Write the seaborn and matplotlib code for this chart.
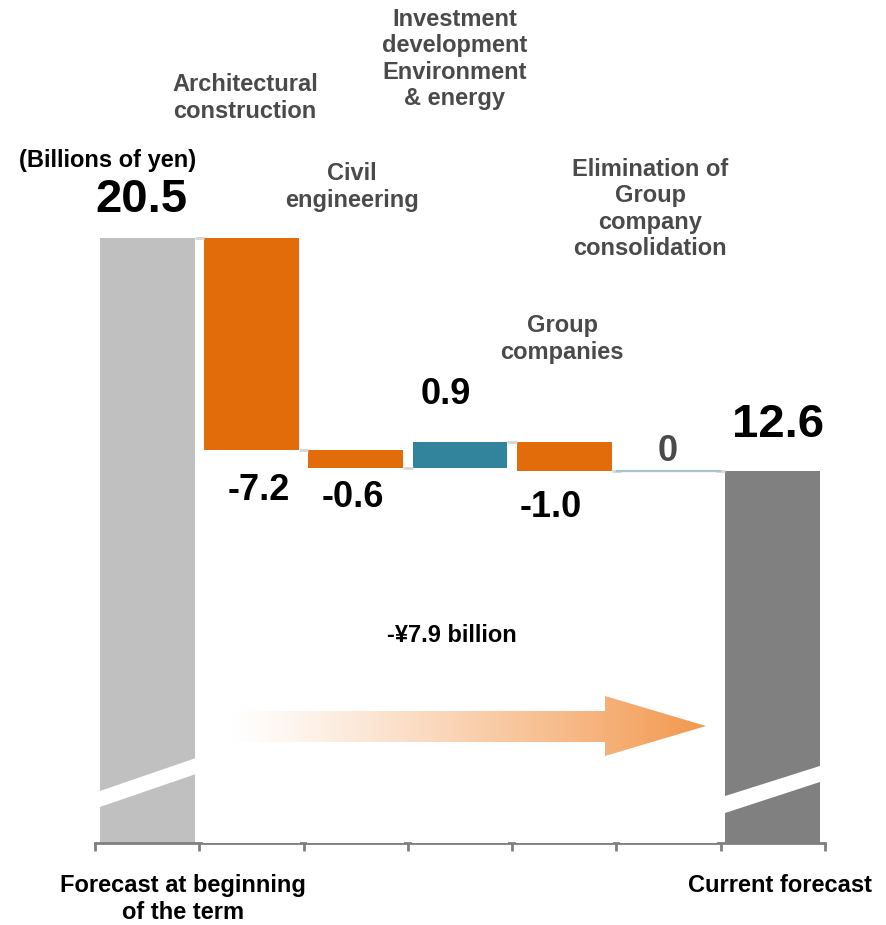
import numpy as np
import pandas as pd
import matplotlib
matplotlib.use("Agg")
import matplotlib.pyplot as plt
from matplotlib.patches import Polygon
import seaborn as sns

# ---- data (billions of yen) ----
steps = ["start", "arch", "civil", "invest", "group", "elim", "end"]
start_value = 20.5
deltas = [-7.2, -0.6, 0.9, -1.0, 0.0]
end_value = 12.6
step_titles = [
    "",
    "Architectural\nconstruction",
    "Civil\nengineering",
    "Investment\ndevelopment\nEnvironment\n& energy",
    "Group\ncompanies",
    "Elimination of\nGroup\ncompany\nconsolidation",
    "",
]
bottom_titles = ["Forecast at beginning\nof the term", "Current forecast"]
unit_label = "(Billions of yen)"
total_change_label = "-\u00a57.9 billion"

# ---- colours ----
c_start = "#c0c0c0"
c_end = "#808080"
c_down = "#e36c0a"
c_up = "#31849b"
c_flat = "#a9c5cb"
c_link = "#d6d6d6"
c_title = "#4a4a4a"

# ---- waterfall geometry from the values ----
levels = [start_value]
for d in deltas:
    levels.append(round(levels[-1] + d, 1))
tops, bottoms, colors = [start_value], [0.0], [c_start]
for i, d in enumerate(deltas):
    lo, hi = sorted([levels[i], levels[i + 1]])
    tops.append(hi)
    bottoms.append(lo)
    colors.append(c_flat if d == 0 else (c_down if d < 0 else c_up))
tops.append(end_value)
bottoms.append(0.0)
colors.append(c_end)

df = pd.DataFrame({"step": steps, "top": tops, "bottom": bottoms})

sns.set_style("white")
plt.rcParams["font.family"] = ["Liberation Sans", "DejaVu Sans"]
plt.rcParams["font.weight"] = "bold"

W, H = 886, 925
fig = plt.figure(figsize=(W / 100, H / 100), dpi=100)
y0_px, px_per_unit = 842.6, 29.49
ymax = 28.5
ax = fig.add_axes([95 / W, 1 - y0_px / H, 730 / W, ymax * px_per_unit / H])

slot_px = 730 / 7


def px2x(px):
    return (px - 95) / slot_px - 0.5


def px2y(py):
    return (y0_px - py) / px_per_unit


bar_w = 0.91
sns.barplot(data=df, x="step", y="top", hue="step", palette=colors,
            width=bar_w, dodge=False, legend=False, saturation=1,
            linewidth=0, ax=ax, zorder=2)
# blank out the part of each floating bar below its base
sns.barplot(data=df, x="step", y="bottom", color="white", width=bar_w + 0.02,
            saturation=1, linewidth=0, ax=ax, zorder=3)

# connectors between consecutive bars
for i in range(len(steps) - 1):
    lvl = levels[i] if i < len(levels) else end_value
    ax.plot([i + bar_w / 2, i + 1 - bar_w / 2], [lvl, lvl],
            color=c_link, lw=2, zorder=4, solid_capstyle="butt")
# zero-change step drawn as a flat line
ax.plot([5 - 0.5, 5 + 0.5], [levels[5], levels[5]], color=c_flat, lw=1.6,
        zorder=4, solid_capstyle="butt")

# axis-break wedges on the two total bars
for pts in ([(97, 792), (196, 758), (196, 774), (97, 808)],
            [(722, 797), (823, 765), (823, 781), (722, 814)]):
    ax.add_patch(Polygon([(px2x(a), px2y(b)) for a, b in pts],
                         closed=True, facecolor="white", edgecolor="none",
                         zorder=5))

# gradient arrow showing the overall change
arrow_px = [(232, 711), (605, 711), (605, 696), (706, 726), (605, 756),
            (605, 742), (232, 742)]
arrow = Polygon([(px2x(a), px2y(b)) for a, b in arrow_px], closed=True,
                facecolor="none", edgecolor="none", transform=ax.transData)
ax.add_patch(arrow)
t = np.linspace(0, 1, 400) ** 1.15
c0 = np.array([1.0, 1.0, 1.0])
c1 = np.array([243, 152, 78]) / 255
grad = (c0[None, :] * (1 - t[:, None]) + c1[None, :] * t[:, None])[None, :, :]
img = ax.imshow(grad, extent=[px2x(232), px2x(706), px2y(756), px2y(696)],
                aspect="auto", zorder=6, interpolation="bilinear")
img.set_clip_path(arrow)

ax.set_xlim(-0.5, 6.5)
ax.set_ylim(0, ymax)

# axes styling
sns.despine(ax=ax, left=True, top=True, right=True)
ax.spines["bottom"].set_color("#7f7f7f")
ax.spines["bottom"].set_linewidth(2)
ax.spines["bottom"].set_capstyle("projecting")
ax.set_xticks(np.arange(-0.5, 7, 1.0))
ax.set_xticklabels([])
ax.set_yticks([])
ax.tick_params(axis="x", which="major", bottom=True, direction="out",
               length=6, width=2, color="#7f7f7f")
ax.set_xlabel("")
ax.set_ylabel("")


def ftext(px, py, s, **kw):
    fig.text(px / W, 1 - py / H, s, ha="center", fontweight="bold", **kw)


# value labels
value_labels = [f"{start_value:.1f}"] + \
    [("0" if d == 0 else f"{d:.1f}") for d in deltas] + [f"{end_value:.1f}"]
label_pos = [(141, 212, 34), (259, 500, 26), (353, 507, 26), (446, 404, 26),
             (551, 517, 26), (668, 461, 26), (778, 437, 34)]
for i, (s, (lx, ly, fs)) in enumerate(zip(value_labels, label_pos)):
    col = c_title if (0 < i < 6 and deltas[i - 1] == 0) else "black"
    ftext(lx, ly, s, va="baseline", fontsize=fs, color=col)

# step titles
title_pos = {1: (245, 98), 2: (352, 187), 3: (455, 59), 4: (562, 339),
             5: (650, 209)}
for i, (tx, ty) in title_pos.items():
    ftext(tx, ty, step_titles[i], va="center", fontsize=17, color=c_title,
          linespacing=1.2)

ftext(108, 160, unit_label, va="center", fontsize=17, color="black")
ftext(452, 636, total_change_label, va="center", fontsize=17, color="black")
ftext(183, 899, bottom_titles[0], va="center", fontsize=17, color="black",
      linespacing=1.2)
ftext(780, 885, bottom_titles[1], va="center", fontsize=17, color="black")

fig.savefig("out.png", dpi=100)
